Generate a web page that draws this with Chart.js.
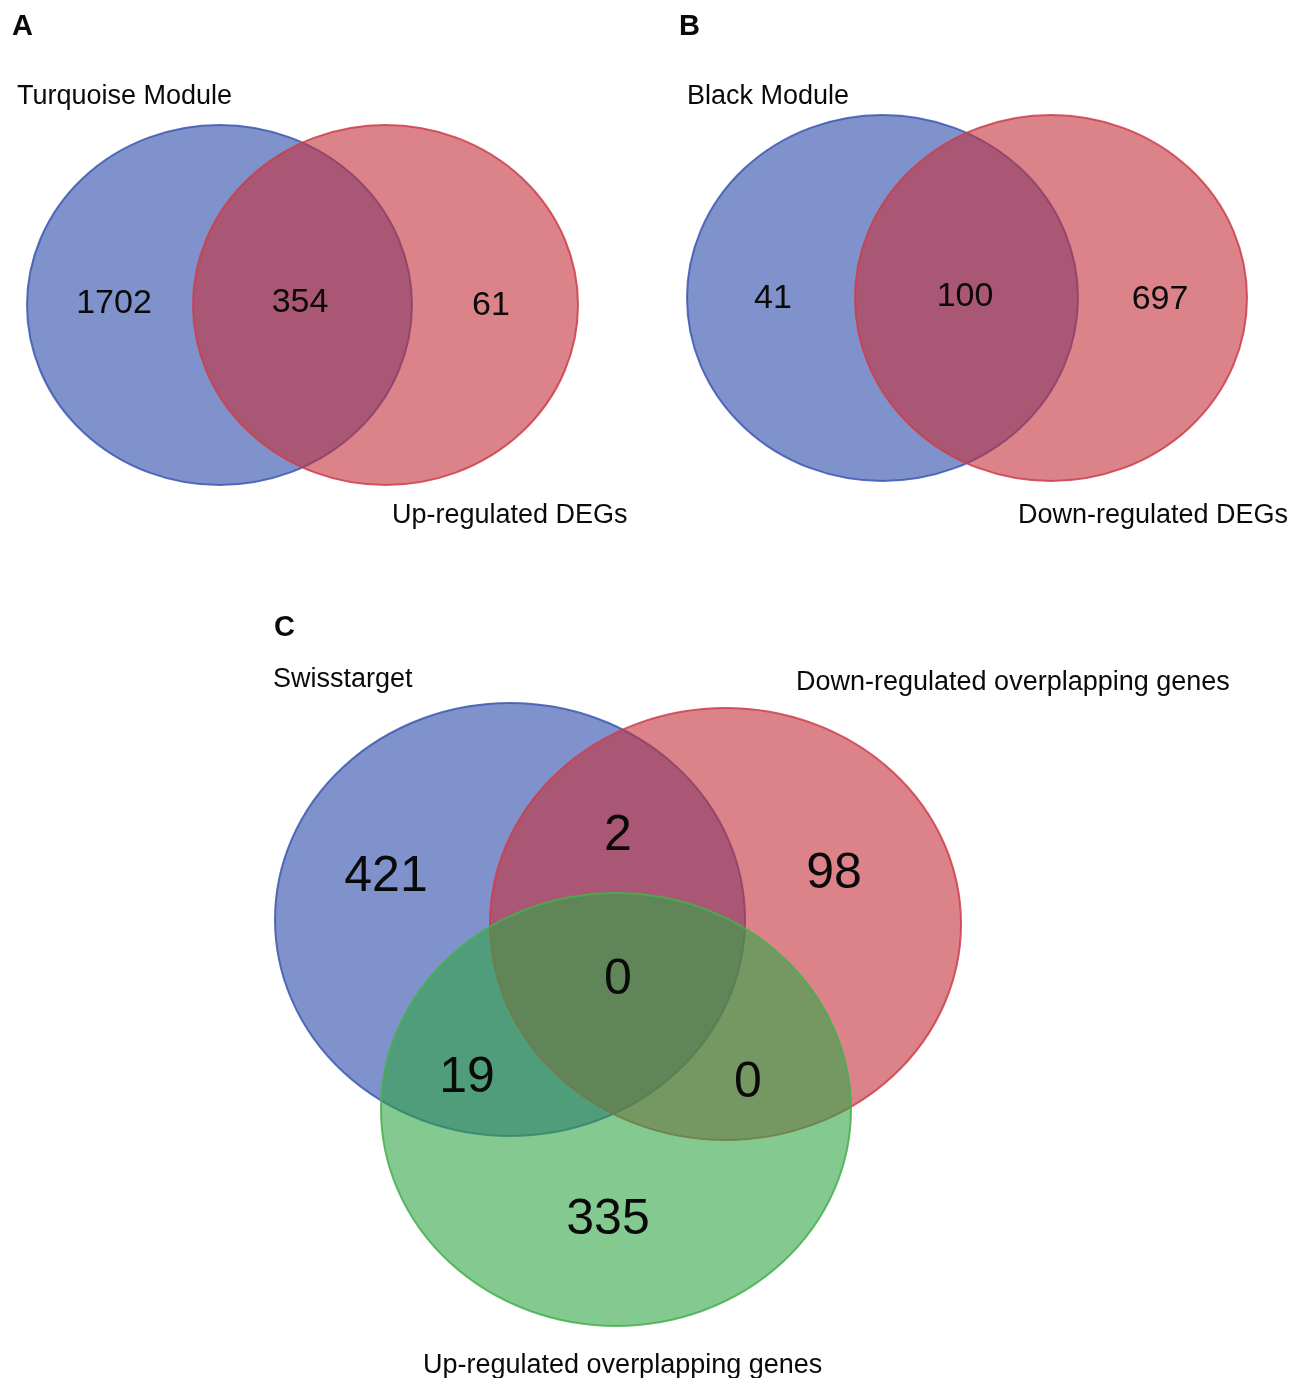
<!DOCTYPE html>
<html>
<head>
<meta charset="utf-8">
<script src="https://cdn.jsdelivr.net/npm/chart.js@4/dist/chart.umd.min.js"></script>
<style>
  html, body { margin: 0; padding: 0; background: #ffffff; }
  #wrap { position: relative; width: 1294px; height: 1378px; }
</style>
</head>
<body>
<div id="wrap"><canvas id="venn" width="1294" height="1378"></canvas></div>
<script>
// ---------- data ----------
const panelLetters = ['A', 'B', 'C'];
const setsA = ['Turquoise Module', 'Up-regulated DEGs'];
const countsA = [1702, 354, 61];            // only set1, both, only set2
const setsB = ['Black Module', 'Down-regulated DEGs'];
const countsB = [41, 100, 697];
const setsC = ['Swisstarget', 'Down-regulated overplapping genes', 'Up-regulated overplapping genes'];
const countsC = [421, 2, 98, 0, 19, 0, 335]; // S only, S∩D, D only, all, S∩U, D∩U, U only

// ---------- layout (data units of a 1294 x 1378 canvas-aligned scale) ----------
const ellipsesA = [
  { cx: 219.5, cy: 305, rx: 192.5, ry: 180, col: 'blue' },
  { cx: 385.5, cy: 305, rx: 192.5, ry: 180, col: 'red' }
];
const ellipsesB = [
  { cx: 882.5, cy: 298, rx: 195.5, ry: 183, col: 'blue' },
  { cx: 1051, cy: 298, rx: 196, ry: 183, col: 'red' }
];
const ellipsesC = [
  { cx: 510, cy: 919.5, rx: 235, ry: 216.5, col: 'blue' },
  { cx: 725.5, cy: 924, rx: 235.5, ry: 216, col: 'red' },
  { cx: 616, cy: 1109.5, rx: 235, ry: 216.5, col: 'green' }
];
const countPosA = [[114, 304], [300, 303], [491, 306]];
const countPosB = [[773, 299], [965, 297], [1160, 300]];
const countPosC = [[386, 877], [618, 836], [834, 874], [618, 980], [467, 1078], [748, 1083], [608, 1220]];
const letterPos = [[12, 27], [679, 27], [274, 628]];
const setLabelPosA = [[17, 97], [392, 516]];
const setLabelPosB = [[687, 97], [1018, 516]];
const setLabelPosC = [[273, 680], [796, 683], [423, 1366]];

const palette = {
  blue:  { fill: 'rgba(42,73,170,0.6)',  stroke: 'rgba(60,88,178,0.85)' },
  red:   { fill: 'rgba(196,48,58,0.6)',  stroke: 'rgba(205,62,74,0.85)' },
  green: { fill: 'rgba(48,165,70,0.6)',  stroke: 'rgba(70,175,80,0.85)' }
};

function countDataset(counts, pos, size) {
  return {
    type: 'scatter',
    data: counts.map((v, i) => ({ x: pos[i][0], y: pos[i][1], v: v })),
    pointRadius: 0,
    pointHoverRadius: 0,
    showLine: false,
    order: 0,
    labelSize: size
  };
}

const vennPlugin = {
  id: 'venn',
  beforeDatasetsDraw(chart) {
    const ctx = chart.ctx;
    const xs = chart.scales.x, ys = chart.scales.y;
    [ellipsesA, ellipsesB, ellipsesC].forEach(group => {
      group.forEach(e => {
        const px = xs.getPixelForValue(e.cx);
        const py = ys.getPixelForValue(e.cy);
        const prx = Math.abs(xs.getPixelForValue(e.cx + e.rx) - px);
        const pry = Math.abs(ys.getPixelForValue(e.cy + e.ry) - py);
        ctx.save();
        ctx.beginPath();
        ctx.ellipse(px, py, prx, pry, 0, 0, Math.PI * 2);
        ctx.fillStyle = palette[e.col].fill;
        ctx.fill();
        ctx.lineWidth = 2;
        ctx.strokeStyle = palette[e.col].stroke;
        ctx.stroke();
        ctx.restore();
      });
    });
  },
  afterDatasetsDraw(chart) {
    const ctx = chart.ctx;
    const xs = chart.scales.x, ys = chart.scales.y;
    ctx.save();
    ctx.fillStyle = '#0a0a0a';
    ctx.textBaseline = 'middle';
    // counts
    chart.data.datasets.forEach((ds, di) => {
      const meta = chart.getDatasetMeta(di);
      ctx.font = ds.labelSize + 'px "Liberation Sans", Arial, sans-serif';
      ctx.textAlign = 'center';
      meta.data.forEach((pt, i) => {
        ctx.fillText(String(ds.data[i].v), pt.x, pt.y);
      });
    });
    // panel letters
    ctx.textAlign = 'left';
    ctx.font = 'bold 29px "Liberation Sans", Arial, sans-serif';
    panelLetters.forEach((L, i) => {
      ctx.fillText(L, xs.getPixelForValue(letterPos[i][0]), ys.getPixelForValue(letterPos[i][1]));
    });
    // set names
    ctx.font = '27px "Liberation Sans", Arial, sans-serif';
    const put = (names, pos) => names.forEach((n, i) =>
      ctx.fillText(n, xs.getPixelForValue(pos[i][0]), ys.getPixelForValue(pos[i][1])));
    put(setsA, setLabelPosA);
    put(setsB, setLabelPosB);
    put(setsC, setLabelPosC);
    ctx.restore();
  }
};

new Chart(document.getElementById('venn'), {
  type: 'scatter',
  data: {
    datasets: [
      countDataset(countsA, countPosA, 34),
      countDataset(countsB, countPosB, 34),
      countDataset(countsC, countPosC, 50)
    ]
  },
  options: {
    responsive: false,
    animation: false,
    events: [],
    layout: { padding: 0 },
    plugins: { legend: { display: false }, tooltip: { enabled: false }, title: { display: false } },
    scales: {
      x: { type: 'linear', min: 0, max: 1294, display: false },
      y: { type: 'linear', min: 0, max: 1378, reverse: true, display: false }
    }
  },
  plugins: [vennPlugin]
});
</script>
</body>
</html>
